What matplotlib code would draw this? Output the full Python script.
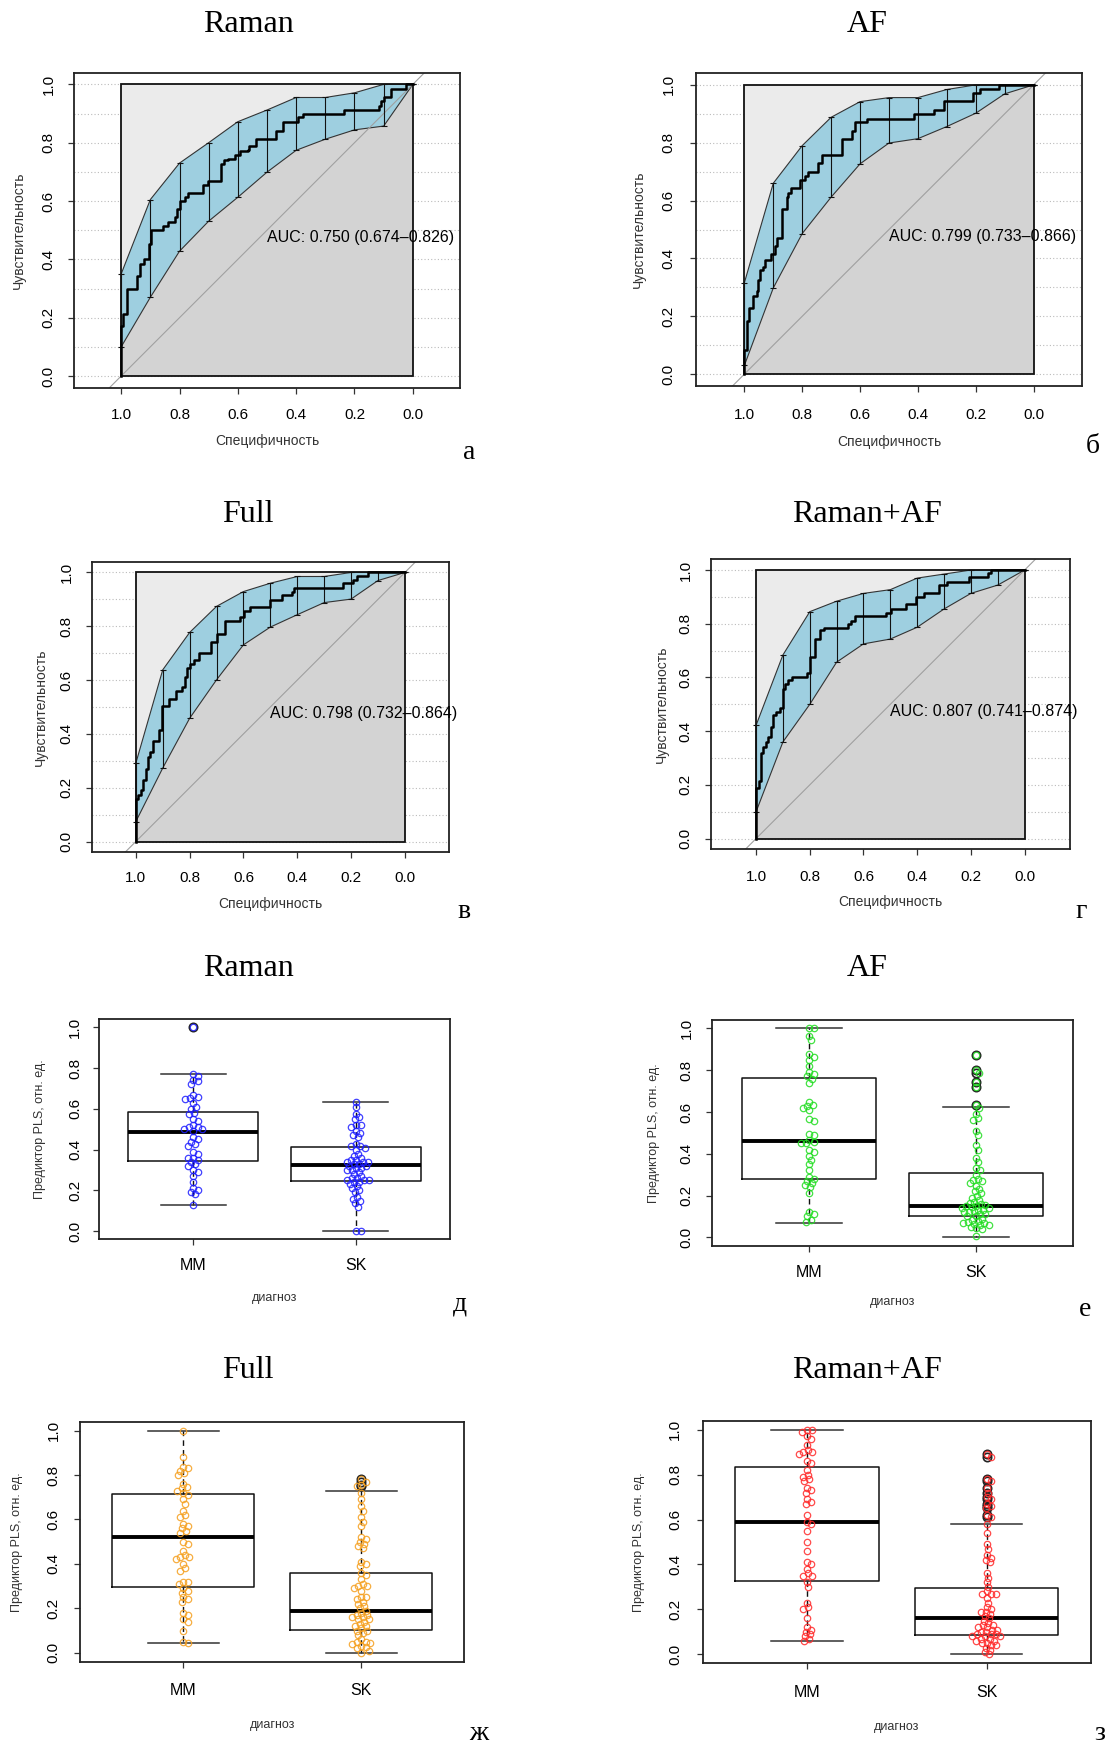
import numpy as np
import matplotlib
matplotlib.use('Agg')
import matplotlib.pyplot as plt
from matplotlib.patches import Rectangle, Polygon

plt.rcParams['font.family'] = ['Liberation Sans', 'DejaVu Sans']

W, H = 1113, 1753

# ---------------- ROC data ----------------
ci_spec = [1.0, 0.9, 0.8, 0.7, 0.6, 0.5, 0.4, 0.3, 0.2, 0.1, 0.0]

raman_roc_spec = [1.0, 1.0, 0.995, 0.980, 0.946, 0.935, 0.923, 0.903, 0.898, 0.856,
                  0.839, 0.816, 0.807, 0.799, 0.782, 0.771, 0.719, 0.702, 0.656, 0.647,
                  0.634, 0.611, 0.591, 0.566, 0.560, 0.538, 0.469, 0.446, 0.395, 0.378,
                  0.235, 0.116, 0.110, 0.099, 0.076, 0.025, 0.0]
raman_roc_sens = [0.0, 0.17, 0.213, 0.30, 0.342, 0.385, 0.40, 0.453, 0.50, 0.514,
                  0.527, 0.545, 0.573, 0.60, 0.613, 0.627, 0.655, 0.67, 0.727, 0.741,
                  0.744, 0.758, 0.77, 0.775, 0.787, 0.813, 0.841, 0.872, 0.887, 0.898,
                  0.912, 0.927, 0.942, 0.958, 0.984, 1.0, 1.0]
raman_ci_hi = [0.35, 0.605, 0.73, 0.80, 0.872, 0.912, 0.955, 0.955, 0.971, 1.0, 1.0]
raman_ci_lo = [0.10, 0.27, 0.428, 0.531, 0.613, 0.699, 0.774, 0.812, 0.844, 0.857, 1.0]

af_roc_spec = [1.0, 1.0, 0.992, 0.983, 0.971, 0.957, 0.952, 0.946, 0.937, 0.929,
               0.909, 0.894, 0.888, 0.871, 0.854, 0.848, 0.840, 0.807, 0.790, 0.779,
               0.744, 0.733, 0.663, 0.629, 0.617, 0.577, 0.415, 0.346, 0.311, 0.208,
               0.185, 0.121, 0.0]
af_roc_sens = [0.0, 0.085, 0.184, 0.227, 0.269, 0.288, 0.327, 0.359, 0.371, 0.396,
               0.417, 0.442, 0.471, 0.572, 0.612, 0.626, 0.643, 0.672, 0.684, 0.70,
               0.73, 0.756, 0.814, 0.839, 0.873, 0.883, 0.90, 0.914, 0.944, 0.972,
               0.984, 1.0, 1.0]
af_ci_hi = [0.316, 0.66, 0.79, 0.888, 0.942, 0.956, 0.956, 0.984, 1.0, 1.0, 1.0]
af_ci_lo = [0.03, 0.298, 0.486, 0.612, 0.727, 0.799, 0.814, 0.856, 0.902, 0.969, 1.0]

full_roc_spec = [1.0, 1.0, 0.991, 0.981, 0.972, 0.963, 0.954, 0.947, 0.936, 0.914,
                 0.904, 0.877, 0.852, 0.827, 0.819, 0.809, 0.80, 0.784, 0.765, 0.719,
                 0.698, 0.667, 0.611, 0.599, 0.574, 0.5, 0.457, 0.420, 0.411, 0.231,
                 0.191, 0.179, 0.136, 0.0]
full_roc_sens = [0.0, 0.157, 0.173, 0.19, 0.229, 0.269, 0.316, 0.331, 0.374, 0.415,
                 0.502, 0.529, 0.558, 0.576, 0.613, 0.644, 0.659, 0.673, 0.70, 0.743,
                 0.772, 0.818, 0.836, 0.857, 0.870, 0.898, 0.917, 0.927, 0.944, 0.960,
                 0.973, 0.985, 1.0, 1.0]
full_ci_hi = [0.291, 0.638, 0.777, 0.874, 0.929, 0.96, 0.985, 0.985, 1.0, 1.0, 1.0]
full_ci_lo = [0.074, 0.273, 0.458, 0.601, 0.731, 0.797, 0.843, 0.888, 0.901, 0.970, 1.0]

ramanaf_roc_spec = [1.0, 1.0, 0.991, 0.983, 0.973, 0.963, 0.954, 0.946, 0.936, 0.926,
                    0.911, 0.901, 0.892, 0.880, 0.868, 0.812, 0.800, 0.781, 0.763, 0.747,
                    0.658, 0.645, 0.633, 0.515, 0.497, 0.441, 0.404, 0.373, 0.318, 0.290,
                    0.206, 0.136, 0.126, 0.0]
ramanaf_roc_sens = [0.0, 0.187, 0.215, 0.317, 0.342, 0.36, 0.379, 0.416, 0.459, 0.472,
                    0.488, 0.558, 0.577, 0.589, 0.601, 0.616, 0.676, 0.744, 0.775, 0.785,
                    0.80, 0.812, 0.827, 0.839, 0.855, 0.874, 0.901, 0.913, 0.944, 0.954,
                    0.973, 0.988, 1.0, 1.0]
ramanaf_ci_hi = [0.422, 0.684, 0.845, 0.884, 0.913, 0.927, 0.970, 0.985, 1.0, 1.0, 1.0]
ramanaf_ci_lo = [0.10, 0.36, 0.50, 0.657, 0.725, 0.743, 0.787, 0.855, 0.913, 0.944, 1.0]

roc_auc = ['AUC: 0.750 (0.674\u20130.826)', 'AUC: 0.799 (0.733\u20130.866)',
           'AUC: 0.798 (0.732\u20130.864)', 'AUC: 0.807 (0.741\u20130.874)']
titles = ['Raman', 'AF', 'Full', 'Raman+AF']
roc_letters = ['а', 'б', 'в', 'г']
box_letters = ['д', 'е', 'ж', 'з']

# ---------------- box plot data ----------------
groups = ['MM', 'SK']
# (whisker low, q1, median, q3, whisker high) for MM and SK
raman_stats = [(0.126, 0.345, 0.488, 0.583, 0.770), (0.0, 0.248, 0.323, 0.415, 0.635)]
raman_fliers = [[1.0], []]
raman_mm = [1.0, 0.77, 0.76, 0.74, 0.735, 0.72, 0.67, 0.66, 0.655, 0.65, 0.63, 0.61, 0.60,
            0.58, 0.575, 0.55, 0.54, 0.52, 0.51, 0.51, 0.50, 0.50, 0.49, 0.46, 0.45, 0.44,
            0.43, 0.42, 0.39, 0.38, 0.36, 0.36, 0.35, 0.34, 0.33, 0.32, 0.30, 0.29, 0.27,
            0.24, 0.21, 0.20, 0.19, 0.18, 0.13]
raman_sk = [0.635, 0.61, 0.575, 0.56, 0.55, 0.52, 0.52, 0.51, 0.49, 0.48, 0.47, 0.46, 0.43,
            0.42, 0.42, 0.41, 0.40, 0.38, 0.37, 0.36, 0.35, 0.35, 0.34, 0.34, 0.34, 0.33,
            0.33, 0.32, 0.32, 0.31, 0.31, 0.30, 0.30, 0.29, 0.28, 0.27, 0.26, 0.26, 0.25,
            0.25, 0.25, 0.24, 0.24, 0.23, 0.22, 0.21, 0.20, 0.19, 0.17, 0.16, 0.15, 0.14,
            0.12, 0.0, 0.0]

af_stats = [(0.07, 0.281, 0.461, 0.762, 1.0), (0.002, 0.10, 0.15, 0.309, 0.624)]
af_fliers = [[], [0.873, 0.80, 0.785, 0.745, 0.72, 0.635]]
af_mm = [1.0, 1.0, 0.965, 0.945, 0.875, 0.865, 0.85, 0.82, 0.79, 0.78, 0.77, 0.76, 0.74,
         0.65, 0.635, 0.63, 0.62, 0.61, 0.565, 0.555, 0.495, 0.49, 0.465, 0.455, 0.45, 0.45,
         0.42, 0.41, 0.39, 0.37, 0.35, 0.32, 0.29, 0.28, 0.27, 0.26, 0.25, 0.24, 0.21, 0.12,
         0.11, 0.10, 0.085, 0.075]
af_sk = [0.873, 0.80, 0.785, 0.745, 0.72, 0.635, 0.62, 0.59, 0.57, 0.56, 0.51, 0.49, 0.44,
         0.42, 0.38, 0.36, 0.33, 0.32, 0.30, 0.28, 0.275, 0.27, 0.26, 0.245, 0.23, 0.22, 0.21,
         0.20, 0.19, 0.18, 0.17, 0.165, 0.16, 0.155, 0.15, 0.15, 0.145, 0.14, 0.14, 0.13,
         0.13, 0.125, 0.12, 0.12, 0.11, 0.11, 0.10, 0.10, 0.09, 0.085, 0.08, 0.075, 0.07,
         0.07, 0.065, 0.06, 0.06, 0.05, 0.045, 0.04, 0.005]

full_stats = [(0.045, 0.297, 0.52, 0.715, 1.0), (0.0, 0.102, 0.189, 0.357, 0.728)]
full_fliers = [[], [0.78, 0.77, 0.755, 0.75]]
full_mm = [1.0, 0.88, 0.835, 0.83, 0.82, 0.81, 0.80, 0.76, 0.745, 0.74, 0.73, 0.72, 0.71,
           0.69, 0.67, 0.64, 0.62, 0.61, 0.58, 0.57, 0.56, 0.55, 0.54, 0.50, 0.49, 0.46,
           0.44, 0.43, 0.43, 0.42, 0.40, 0.38, 0.37, 0.32, 0.32, 0.31, 0.29, 0.28, 0.27,
           0.25, 0.24, 0.23, 0.18, 0.17, 0.15, 0.14, 0.10, 0.05, 0.045]
full_sk = [0.78, 0.77, 0.755, 0.75, 0.72, 0.69, 0.66, 0.64, 0.61, 0.59, 0.57, 0.52, 0.51,
           0.50, 0.49, 0.48, 0.47, 0.41, 0.40, 0.39, 0.36, 0.35, 0.33, 0.31, 0.30, 0.30,
           0.29, 0.28, 0.25, 0.25, 0.24, 0.23, 0.22, 0.21, 0.20, 0.19, 0.18, 0.17, 0.17,
           0.16, 0.16, 0.15, 0.15, 0.14, 0.13, 0.12, 0.12, 0.11, 0.10, 0.10, 0.09, 0.08,
           0.06, 0.05, 0.05, 0.045, 0.04, 0.03, 0.025, 0.02, 0.01, 0.0]

ramanaf_stats = [(0.061, 0.326, 0.59, 0.835, 1.0), (0.0, 0.085, 0.162, 0.297, 0.579)]
ramanaf_fliers = [[], [0.89, 0.88, 0.78, 0.77, 0.74, 0.72, 0.70, 0.69, 0.67, 0.66, 0.65,
                       0.62, 0.61]]
ramanaf_mm = [1.0, 1.0, 0.99, 0.97, 0.96, 0.93, 0.91, 0.90, 0.90, 0.89, 0.86, 0.85, 0.82,
              0.80, 0.79, 0.78, 0.77, 0.74, 0.73, 0.72, 0.69, 0.68, 0.67, 0.62, 0.59, 0.58,
              0.55, 0.50, 0.46, 0.41, 0.40, 0.38, 0.36, 0.35, 0.35, 0.32, 0.30, 0.23, 0.21,
              0.20, 0.16, 0.12, 0.11, 0.10, 0.09, 0.08, 0.07, 0.06]
ramanaf_sk = [0.89, 0.88, 0.78, 0.77, 0.74, 0.72, 0.70, 0.69, 0.67, 0.66, 0.65, 0.62, 0.61,
              0.58, 0.54, 0.49, 0.47, 0.44, 0.43, 0.42, 0.41, 0.36, 0.34, 0.32, 0.30, 0.28,
              0.27, 0.27, 0.27, 0.25, 0.23, 0.21, 0.20, 0.19, 0.19, 0.18, 0.17, 0.16, 0.15,
              0.14, 0.13, 0.13, 0.12, 0.12, 0.11, 0.11, 0.10, 0.10, 0.09, 0.09, 0.09, 0.08,
              0.08, 0.08, 0.07, 0.07, 0.06, 0.06, 0.05, 0.05, 0.04, 0.04, 0.03, 0.02, 0.01, 0.0]

fig = plt.figure(figsize=(W / 100, H / 100), dpi=100)


def axes_px(x0, y0, x1, y1):
    return fig.add_axes([x0 / W, 1 - y1 / H, (x1 - x0) / W, (y1 - y0) / H])


def frame_style(ax):
    for s in ax.spines.values():
        s.set_color('#222222')
        s.set_linewidth(1.3)


def labels_px(ax, frame, ytick_cx, xtick_cy, ylab_cx, xlab_cy, ylabel, xlabel, lab_size):
    x0, y0, x1, y1 = frame
    w, h = x1 - x0, y1 - y0
    tick_len = 6
    ax.tick_params(axis='y', length=tick_len * 0.72, width=0.9, color='#333333',
                   pad=(x0 - ytick_cx - tick_len - 8.7) * 0.72)
    ax.tick_params(axis='x', length=tick_len * 0.72, width=0.9, color='#333333',
                   pad=(xtick_cy - y1 - tick_len - 8.7) * 0.72)
    ax.set_ylabel(ylabel, fontsize=lab_size, color='#333333')
    ax.set_xlabel(xlabel, fontsize=lab_size, color='#333333')
    ax.yaxis.set_label_coords((ylab_cx + 8 - x0) / w, 0.5)
    ax.xaxis.set_label_coords(0.5, (y1 - (xlab_cy - 8)) / h)


def roc_panel(frame, spec, sens, ci_lo, ci_hi, auc, title, title_xy, letter, letter_xy,
              ytick_cx, xtick_cy, ylab_cx, xlab_cy):
    x0, y0, x1, y1 = frame
    ax = axes_px(*frame)
    ppu = (y1 - y0) / 1.08
    half = (x1 - x0) / ppu / 2
    ax.set_xlim(0.5 + half, 0.5 - half)
    ax.set_ylim(-0.04, 1.04)
    for g in np.arange(0, 1.01, 0.1):
        ax.axhline(g, color='#bbbbbb', ls=(0, (1, 2)), lw=0.8, zorder=0)
    # max-AUC square and the area under the curve
    ax.add_patch(Rectangle((0, 0), 1, 1, fc='#ebebeb', ec='none', zorder=1))
    ax.fill_between(spec, sens, 0, step='post', color='#d3d3d3', lw=0, zorder=1.5)
    lo = np.asarray(ci_lo)
    hi = np.asarray(ci_hi)
    xs = np.asarray(ci_spec)
    poly = np.column_stack([np.r_[xs, xs[::-1]], np.r_[hi, lo[::-1]]])
    ax.add_patch(Polygon(poly, closed=True, fc='#9ecfe0', ec='#333333', lw=0.8, zorder=2))
    ax.axline((1, 0), (0, 1), color='#a0a0a0', lw=0.8, zorder=2.5)
    ax.add_patch(Rectangle((0, 0), 1, 1, fill=False, ec='#111111', lw=1.3, zorder=3))
    ax.errorbar(xs, (lo + hi) / 2, yerr=(hi - lo) / 2, fmt='none', ecolor='#111111',
                elinewidth=0.8, capsize=2.5, capthick=0.8, zorder=3.5)
    ax.plot(spec, sens, drawstyle='steps-post', color='black', lw=1.8, zorder=4)
    ax.text(0.5, 0.475, auc, fontsize=11.5, ha='left', va='center', zorder=5)
    ax.set_xticks([1.0, 0.8, 0.6, 0.4, 0.2, 0.0])
    ax.set_xticklabels(['1.0', '0.8', '0.6', '0.4', '0.2', '0.0'], fontsize=11)
    ax.set_yticks([0.0, 0.2, 0.4, 0.6, 0.8, 1.0])
    ax.set_yticklabels(['0.0', '0.2', '0.4', '0.6', '0.8', '1.0'], fontsize=11,
                       rotation=90, va='center')
    frame_style(ax)
    labels_px(ax, frame, ytick_cx, xtick_cy, ylab_cx, xlab_cy,
              'Чувствительность', 'Специфичность', 10)
    fig.text(title_xy[0] / W, 1 - title_xy[1] / H, title, fontsize=23,
             family='Liberation Serif', ha='center', va='center')
    fig.text(letter_xy[0] / W, 1 - letter_xy[1] / H, letter, fontsize=20,
             family='Liberation Serif', ha='center', va='center')


def swarm_offsets(vals, ppu_x, ppu_y, d=4.6):
    vals = np.asarray(vals, float)
    ys = vals * ppu_y
    steps = np.arange(0.5, 30, 0.5)
    cands = np.concatenate([[0.0], np.column_stack([steps, -steps]).ravel()])
    xs = np.zeros(len(vals))
    done = []
    for i in np.argsort(-vals):
        for c in cands:
            if all((c - xs[j]) ** 2 + (ys[i] - ys[j]) ** 2 >= d * d for j in done):
                break
        xs[i] = c
        done.append(i)
    return xs / ppu_x


def box_panel(frame, stats, fliers, mm, sk, color, title, title_xy, letter, letter_xy,
              ytick_cx, xtick_cy, ylab_cx, xlab_cy):
    x0, y0, x1, y1 = frame
    ax = axes_px(*frame)
    ax.set_xlim(0.42, 2.58)
    ax.set_ylim(-0.04, 1.04)
    bstats = [dict(whislo=s[0], q1=s[1], med=s[2], q3=s[3], whishi=s[4], fliers=f)
              for s, f in zip(stats, fliers)]
    ax.bxp(bstats, positions=[1, 2], widths=0.8, manage_ticks=False,
           boxprops=dict(color='#111111', lw=1.1),
           medianprops=dict(color='black', lw=2.8),
           whiskerprops=dict(color='#111111', lw=1.0, ls=(0, (4, 3))),
           capprops=dict(color='#333333', lw=1.1),
           flierprops=dict(marker='o', mfc='none', mec='#222222', mew=1.2, ms=6))
    ppu_x = (x1 - x0) / 2.16
    ppu_y = (y1 - y0) / 1.08
    for pos, vals in zip([1, 2], [mm, sk]):
        off = swarm_offsets(vals, ppu_x, ppu_y)
        ax.plot(pos + off, vals, 'o', mfc='none', mec=color, mew=0.9, ms=4.6,
                alpha=0.85, zorder=4)
    ax.set_xticks([1, 2])
    ax.set_xticklabels(groups, fontsize=11.5)
    ax.set_yticks([0.0, 0.2, 0.4, 0.6, 0.8, 1.0])
    ax.set_yticklabels(['0.0', '0.2', '0.4', '0.6', '0.8', '1.0'], fontsize=11,
                       rotation=90, va='center')
    frame_style(ax)
    labels_px(ax, frame, ytick_cx, xtick_cy, ylab_cx, xlab_cy,
              'Предиктор PLS, отн. ед.', 'диагноз', 9)
    fig.text(title_xy[0] / W, 1 - title_xy[1] / H, title, fontsize=23,
             family='Liberation Serif', ha='center', va='center')
    fig.text(letter_xy[0] / W, 1 - letter_xy[1] / H, letter, fontsize=20,
             family='Liberation Serif', ha='center', va='center')


roc_panel((74, 72.7, 460, 387.7), raman_roc_spec, raman_roc_sens, raman_ci_lo, raman_ci_hi,
          roc_auc[0], titles[0], (248, 25), roc_letters[0], (469, 452),
          47, 416.7, 18, 441.7)
roc_panel((695.7, 73.3, 1082.3, 385.7), af_roc_spec, af_roc_sens, af_ci_lo, af_ci_hi,
          roc_auc[1], titles[1], (867, 25), roc_letters[1], (1093, 447),
          666.7, 416.7, 638.3, 443)
roc_panel((91.7, 561.7, 449, 852.3), full_roc_spec, full_roc_sens, full_ci_lo, full_ci_hi,
          roc_auc[2], titles[2], (248, 514), roc_letters[2], (464, 911),
          65, 880, 40, 905)
roc_panel((710.7, 559.3, 1070, 849.3), ramanaf_roc_spec, ramanaf_roc_sens, ramanaf_ci_lo,
          ramanaf_ci_hi, roc_auc[3], titles[3], (867, 514), roc_letters[3], (1081, 911),
          684, 878.3, 660.7, 903.3)

box_panel((99, 1019.3, 450, 1239.3), raman_stats, raman_fliers, raman_mm, raman_sk,
          '#1f1fff', titles[0], (248, 969), box_letters[0], (460, 1304),
          73.3, 1266.7, 38.3, 1300)
box_panel((712.3, 1020, 1072.7, 1245.7), af_stats, af_fliers, af_mm, af_sk,
          '#22dd22', titles[1], (867, 969), box_letters[1], (1085, 1310),
          685, 1273.3, 651.7, 1304)
box_panel((80, 1421.7, 464.3, 1661.7), full_stats, full_fliers, full_mm, full_sk,
          '#f5a020', titles[2], (248, 1370), box_letters[2], (479, 1733),
          51.7, 1691.7, 15, 1726.7)
box_panel((702.7, 1420.7, 1090.7, 1663.3), ramanaf_stats, ramanaf_fliers, ramanaf_mm,
          ramanaf_sk, '#ff2a2a', titles[3], (867, 1370), box_letters[3], (1100, 1733),
          673.3, 1693.3, 636.7, 1729.3)

fig.savefig('out.png', dpi=100)
